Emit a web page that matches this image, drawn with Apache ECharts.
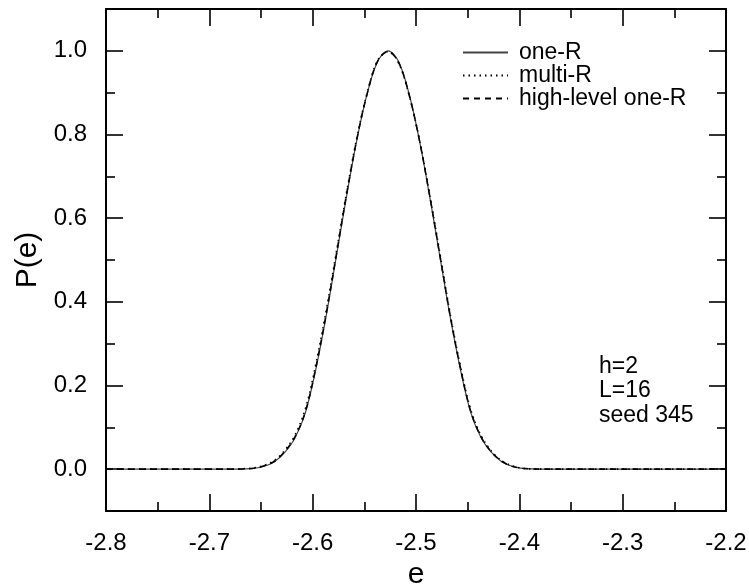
<!DOCTYPE html>
<html>
<head>
<meta charset="utf-8">
<script src="https://cdn.jsdelivr.net/npm/echarts@6/dist/echarts.min.js"></script>
<style>html,body{margin:0;padding:0;background:#fff;}#c{width:749px;height:587px;}</style>
</head>
<body>
<div id="c"></div>
<script>
var energies = [-2.80,-2.75,-2.70,-2.677,-2.667,-2.657,-2.647,-2.637,-2.627,-2.617,-2.607,-2.597,-2.587,-2.577,-2.567,-2.557,-2.547,-2.537,-2.527,-2.517,-2.507,-2.497,-2.487,-2.477,-2.467,-2.457,-2.447,-2.437,-2.427,-2.417,-2.407,-2.397,-2.387,-2.377,-2.35,-2.30,-2.25,-2.20];
var oneR = [0,0,0,0,0.0005,0.002,0.007,0.018,0.040,0.075,0.135,0.238,0.365,0.51,0.655,0.79,0.90,0.975,1.0,0.975,0.90,0.79,0.655,0.51,0.365,0.238,0.135,0.075,0.040,0.018,0.007,0.002,0.0005,0,0,0,0,0];
var multiR = [0,0,0,0,0.001,0.003,0.009,0.021,0.045,0.082,0.145,0.25,0.378,0.52,0.664,0.795,0.902,0.978,0.998,0.972,0.897,0.792,0.66,0.518,0.372,0.246,0.142,0.08,0.043,0.02,0.008,0.002,0.0005,0,0,0,0,0];
var highOneR = [0,0,0,0,0.0005,0.002,0.008,0.019,0.042,0.078,0.138,0.242,0.37,0.514,0.66,0.792,0.9,0.976,0.998,0.973,0.898,0.79,0.657,0.513,0.368,0.242,0.138,0.077,0.041,0.019,0.007,0.002,0.0005,0,0,0,0,0];
var seriesNames = ['one-R','multi-R','high-level one-R'];
var yMajorTicks = [0,0.2,0.4,0.6,0.8,1.0];
var yMinorTicks = [0.1,0.3,0.5,0.7,0.9];
var annotation = ['h=2','L=16','seed 345'];

function pairs(ys){ return energies.map(function(x,i){ return [x, ys[i]]; }); }

var FONT = 'Liberation Sans, Arial, sans-serif';
var chart = echarts.init(document.getElementById('c'), null, {renderer:'canvas'});

function xAx(pos, labels){
  return {
    type:'value', position:pos, min:-2.8, max:-2.2, interval:0.1,
    name: labels ? 'e' : '', nameLocation:'middle', nameGap:49,
    nameTextStyle:{fontFamily:FONT, fontSize:30, color:'#000'},
    axisLine:{show:true, onZero:false, lineStyle:{color:'#000', width:2}},
    axisTick:{show:true, inside:true, length:17, lineStyle:{color:'#000', width:1.6}},
    minorTick:{show:true, splitNumber:2, length:9, lineStyle:{color:'#000', width:1.6}},
    axisLabel:{show:labels, margin:20, fontFamily:FONT, fontSize:24, color:'#000',
      formatter:function(v){ return v.toFixed(1); }},
    splitLine:{show:false}, minorSplitLine:{show:false}
  };
}
function yAx(pos, ticks, len, labels, lineShow){
  return {
    type:'value', position:pos, min:-0.1, max:1.1,
    name: labels ? 'P(e)' : '', nameLocation:'middle', nameGap:62,
    nameTextStyle:{fontFamily:FONT, fontSize:30, color:'#000'},
    axisLine:{show:lineShow, onZero:false, lineStyle:{color:'#000', width:2}},
    axisTick:{show:true, inside:true, length:len, customValues:ticks, lineStyle:{color:'#000', width:1.6}},
    axisLabel:{show:labels, margin:19, customValues:ticks, fontFamily:FONT, fontSize:24, color:'#000',
      formatter:function(v){ return v.toFixed(1); }},
    splitLine:{show:false}
  };
}

var option = {
  backgroundColor:'#fff',
  animation:false,
  grid:{left:106, right:23, top:9, bottom:76, containLabel:false, outerBoundsMode:'none'},
  xAxis:[xAx('bottom', true), xAx('top', false)],
  yAxis:[
    yAx('left', yMajorTicks, 17, true, true),
    yAx('left', yMinorTicks, 9, false, false),
    yAx('right', yMajorTicks, 17, false, true),
    yAx('right', yMinorTicks, 9, false, false)
  ],
  legend:{
    orient:'vertical', left:462, top:41, padding:0,
    itemWidth:45, itemHeight:14, itemGap:0, itemStyle:{opacity:0},
    textStyle:{fontFamily:FONT, fontSize:23, lineHeight:21, color:'#000', padding:[0,0,0,6]},
    data:seriesNames
  },
  series:[
    {name:seriesNames[0], type:'line', data:pairs(oneR), smooth:0.35, symbol:'none',
     lineStyle:{color:'#444', width:1.2, type:'solid'}, itemStyle:{color:'#444'}, z:3},
    {name:seriesNames[1], type:'line', data:pairs(multiR), smooth:0.35, symbol:'none',
     lineStyle:{color:'#000', width:1.6, type:[1.5,4]}, itemStyle:{color:'#000'}, z:4},
    {name:seriesNames[2], type:'line', data:pairs(highOneR), smooth:0.35, symbol:'none',
     lineStyle:{color:'#000', width:1.6, type:[6,5]}, itemStyle:{color:'#000'}, z:5}
  ],
  graphic:[{
    type:'text', left:599, top:354,
    style:{text:annotation.join('\n'), fontFamily:FONT, fontSize:23, lineHeight:24.5, fill:'#000'}
  }]
};
chart.setOption(option);
</script>
</body>
</html>
